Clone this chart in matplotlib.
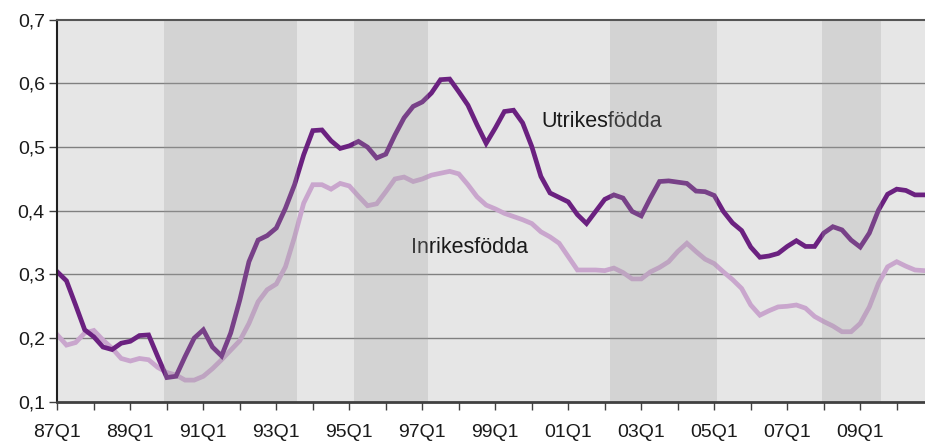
import numpy as np
import matplotlib
matplotlib.use('Agg')
import matplotlib.pyplot as plt

plt.rcParams['font.family'] = ['Liberation Sans', 'DejaVu Sans']

# quarterly series, 87Q1 .. 10Q4
utrikes = [0.304, 0.290, 0.252, 0.213, 0.202, 0.186, 0.182, 0.192, 0.195, 0.204,
           0.205, 0.171, 0.138, 0.140, 0.171, 0.200, 0.213, 0.186, 0.172, 0.208,
           0.260, 0.320, 0.354, 0.361, 0.373, 0.404, 0.441, 0.488, 0.526, 0.527,
           0.510, 0.498, 0.502, 0.509, 0.500, 0.483, 0.489, 0.519, 0.546, 0.564,
           0.571, 0.585, 0.606, 0.607, 0.587, 0.566, 0.535, 0.506, 0.530, 0.556,
           0.558, 0.538, 0.501, 0.454, 0.428, 0.421, 0.414, 0.394, 0.380, 0.399,
           0.418, 0.425, 0.420, 0.399, 0.392, 0.420, 0.446, 0.447, 0.445, 0.443,
           0.431, 0.430, 0.424, 0.399, 0.381, 0.369, 0.343, 0.327, 0.329, 0.333,
           0.344, 0.353, 0.344, 0.344, 0.365, 0.375, 0.370, 0.354, 0.343, 0.365,
           0.401, 0.426, 0.434, 0.432, 0.425, 0.425]

inrikes = [0.205, 0.189, 0.193, 0.208, 0.212, 0.197, 0.184, 0.168, 0.164, 0.168,
           0.166, 0.154, 0.146, 0.142, 0.134, 0.134, 0.140, 0.152, 0.166, 0.181,
           0.196, 0.223, 0.257, 0.276, 0.285, 0.312, 0.359, 0.412, 0.441, 0.441,
           0.434, 0.443, 0.439, 0.423, 0.408, 0.411, 0.430, 0.450, 0.453, 0.446,
           0.450, 0.456, 0.459, 0.462, 0.458, 0.441, 0.422, 0.409, 0.403, 0.396,
           0.391, 0.386, 0.380, 0.367, 0.359, 0.349, 0.328, 0.307, 0.307, 0.307,
           0.306, 0.310, 0.303, 0.293, 0.293, 0.304, 0.311, 0.320, 0.336, 0.349,
           0.336, 0.324, 0.317, 0.304, 0.292, 0.278, 0.252, 0.236, 0.243, 0.249,
           0.250, 0.252, 0.247, 0.234, 0.226, 0.219, 0.210, 0.210, 0.223, 0.249,
           0.286, 0.312, 0.320, 0.313, 0.307, 0.306]

# shaded periods, in quarter index units
bands = [(11.7, 26.3), (32.5, 40.6), (60.6, 72.3), (83.8, 90.3)]

start_year = 1987
n = len(utrikes)
q = np.arange(n)

fig = plt.figure(figsize=(9.25, 4.41), dpi=100)
ax = fig.add_axes([0.062, 0.089, 0.938, 0.866])
ax.set_facecolor('#e6e6e6')

for yv in [0.2, 0.3, 0.4, 0.5, 0.6]:
    ax.axhline(yv, color='#808080', lw=1.0, zorder=1)

ax.plot(q, utrikes, color='#6b2180', lw=3.4, zorder=3, solid_joinstyle='miter')
ax.plot(q, inrikes, color='#c9a6cd', lw=3.4, zorder=2, solid_joinstyle='miter')

# series names placed next to the lines
ax.text(53.1, 0.540, 'Utrikesfödda', fontsize=15.5, color='#1a1a1a',
        va='center', ha='left', zorder=4)
ax.text(38.8, 0.342, 'Inrikesfödda', fontsize=15.5, color='#1a1a1a',
        va='center', ha='left', zorder=4)

# grey periods drawn on top with transparency
for a, b in bands:
    ax.axvspan(a, b, color='#9f9f9f', alpha=0.26, lw=0, zorder=5)

ax.set_xlim(0, 95.1)
ax.set_ylim(0.1, 0.7)

ax.set_yticks([0.1, 0.2, 0.3, 0.4, 0.5, 0.6, 0.7])
ax.set_yticklabels(['0,1', '0,2', '0,3', '0,4', '0,5', '0,6', '0,7'])

major = np.arange(0, n, 8)
minor = np.arange(4, n, 8)
ax.set_xticks(major)
ax.set_xticklabels(['%02dQ1' % ((start_year + i // 4) % 100) for i in major])
ax.set_xticks(minor, minor=True)

ax.tick_params(axis='both', which='both', direction='out', length=6, width=1,
               color='#404040', labelsize=14, labelcolor='#1a1a1a')
ax.tick_params(axis='y', pad=3)
ax.tick_params(axis='x', pad=10)

for side in ['left', 'bottom', 'top']:
    ax.spines[side].set_zorder(6)
ax.spines['right'].set_visible(False)
ax.spines['left'].set_color('#202020')
ax.spines['left'].set_linewidth(1.5)
ax.spines['bottom'].set_color('#404040')
ax.spines['bottom'].set_linewidth(2.0)
ax.spines['top'].set_color('#555555')
ax.spines['top'].set_linewidth(1.5)

fig.savefig('out.png', dpi=100)
